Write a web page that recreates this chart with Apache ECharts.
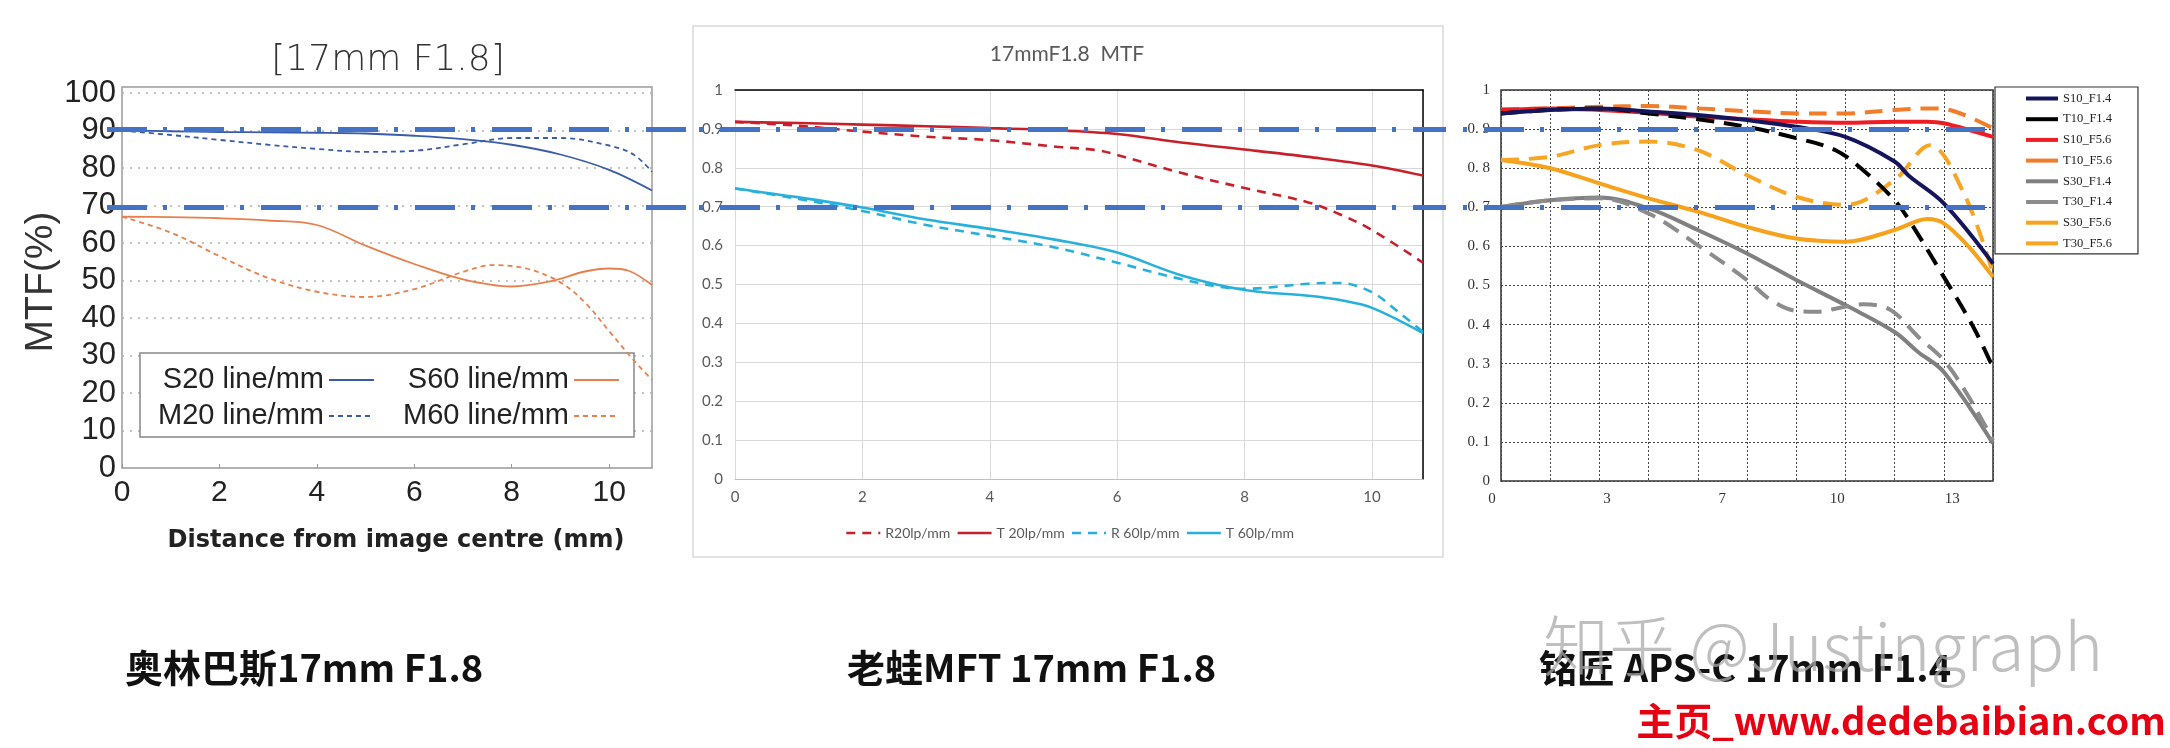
<!DOCTYPE html>
<html>
<head>
<meta charset="utf-8">
<script src="https://cdn.jsdelivr.net/npm/echarts@6.0.0/dist/echarts.min.js"></script>
<style>
html,body{margin:0;padding:0;background:#fff;}
#c{width:2170px;height:748px;}
</style>
</head>
<body>
<div id="c"></div>
<script>
// ---------- Chart 1: Olympus 17mm F1.8 (MTF %, x = mm from centre) ----------
const olyS20 = [[0,90],[1,89.8],[2,89.6],[3,89.5],[4,89.4],[5,89.2],[6,88.6],[7,87.7],[8,86.2],[9,83.6],[10,79.5],[10.88,74]];
const olyM20 = [[0,90],[1,88.8],[2,87.5],[3,86.2],[4,85.1],[5,84.3],[6,84.6],[7,86.3],[8,88.0],[9,88.0],[10,86.0],[10.5,83.6],[10.88,79]];
const olyS60 = [[0,67],[1,66.9],[2,66.6],[3,66],[4,64.8],[5,59.3],[6,54.4],[7,50.3],[8,48.4],[8.8,49.8],[9.5,52.4],[10,53.2],[10.4,52.6],[10.88,48.8]];
const olyM60 = [[0,67],[1,62.8],[2,56.5],[3,50.7],[4,47],[5,45.6],[6,47.7],[7,52.3],[7.6,54.1],[8.3,53.2],[9,49.5],[9.5,44.2],[10,36.5],[10.5,28.8],[10.88,23.5]];

// ---------- Chart 2: Laowa MFT 17mm F1.8 ----------
const lwR20 = [[0,0.918],[1,0.908],[2,0.893],[3,0.88],[4,0.871],[5,0.855],[5.7,0.845],[6,0.833],[7,0.787],[8,0.748],[9,0.711],[9.5,0.68],[10,0.64],[10.8,0.556]];
const lwT20 = [[0,0.918],[1,0.915],[2,0.911],[3,0.907],[4,0.902],[5,0.897],[6,0.887],[7,0.865],[8,0.847],[9,0.828],[10,0.806],[10.8,0.78]];
const lwR60 = [[0,0.747],[1,0.72],[2,0.689],[3,0.653],[4,0.625],[5,0.596],[6,0.556],[7,0.514],[7.8,0.49],[8,0.489],[9,0.502],[9.5,0.504],[10,0.48],[10.4,0.431],[10.8,0.378]];
const lwT60 = [[0,0.747],[1,0.724],[2,0.698],[3,0.667],[4,0.643],[5,0.616],[6,0.582],[7,0.524],[8,0.486],[9,0.471],[9.5,0.46],[10,0.44],[10.8,0.375]];

// ---------- Chart 3: TTArtisan APS-C 17mm F1.4 ----------
const ttS10F14 = [[0,0.94],[1.425,0.949],[2.85,0.953],[4.275,0.945],[5.7,0.936],[7.125,0.923],[8.55,0.906],[9.975,0.88],[11.4,0.817],[11.82,0.78],[12.825,0.71],[14.25,0.556]];
const ttT10F14 = [[0,0.94],[1.425,0.949],[2.85,0.953],[4.275,0.94],[5.7,0.925],[7.16,0.905],[8.55,0.877],[9.69,0.846],[10.49,0.795],[11.4,0.718],[11.82,0.667],[12.825,0.522],[13.68,0.394],[14.25,0.29]];
const ttS10F56 = [[0,0.949],[1.425,0.953],[2.85,0.949],[4.275,0.942],[5.7,0.932],[7.125,0.925],[8.55,0.919],[9.975,0.916],[11.4,0.919],[12.35,0.919],[12.825,0.915],[14.25,0.88]];
const ttT10F56 = [[0,0.951],[1.425,0.953],[2.85,0.957],[4.275,0.959],[5.7,0.953],[7.125,0.946],[8.55,0.94],[9.975,0.94],[11.4,0.949],[12.42,0.953],[13.15,0.945],[14.25,0.902]];
const ttS30F14 = [[0,0.701],[1.425,0.718],[2.85,0.725],[4.275,0.697],[5.7,0.642],[7.125,0.582],[8.55,0.514],[9.975,0.45],[11.4,0.381],[12.08,0.33],[12.825,0.279],[14.25,0.096]];
const ttT30F14 = [[0,0.701],[1.425,0.718],[2.85,0.723],[4.275,0.684],[5.7,0.603],[7.125,0.514],[7.83,0.462],[8.55,0.435],[9.16,0.433],[9.82,0.443],[10.49,0.452],[11.29,0.437],[12.08,0.369],[12.825,0.309],[13.55,0.215],[14.25,0.104]];
const ttS30F56 = [[0,0.821],[1.425,0.8],[2.85,0.761],[4.275,0.723],[5.7,0.689],[7.125,0.65],[8.55,0.62],[9.975,0.612],[11.4,0.642],[12.35,0.67],[12.825,0.659],[13.55,0.599],[14.25,0.522]];
const ttT30F56 = [[0,0.821],[1.425,0.829],[2.85,0.859],[4.275,0.868],[5.7,0.846],[7.125,0.782],[8.55,0.727],[9.975,0.706],[11.4,0.77],[12.42,0.859],[13.41,0.735],[14.25,0.531]];

// reference levels (blue dash-dot lines)
const refLevels = [0.9, 0.7];

// texts
const captions = ['奥林巴斯17mm F1.8', '老蛙MFT 17mm F1.8', '铭匠 APS-C 17mm F1.4'];
const olyLegendA = ['S20 line/mm', 'M20 line/mm'];
const olyLegendB = ['S60 line/mm', 'M60 line/mm'];
const lwLegend = ['R20lp/mm', 'T 20lp/mm', 'R 60lp/mm', 'T 60lp/mm'];
const ttLegend = ['S10_F1.4','T10_F1.4','S10_F5.6','T10_F5.6','S30_F1.4','T30_F1.4','S30_F5.6','T30_F5.6'];

const chart = echarts.init(document.getElementById('c'), null, {renderer: 'canvas'});

function ln(name, data, xi, yi, color, width, type) {
  return {
    name: name, type: 'line', data: data, xAxisIndex: xi, yAxisIndex: yi,
    smooth: 0.35, symbol: 'none', silent: true,
    lineStyle: {color: color, width: width, type: type || 'solid'},
    itemStyle: {color: color}
  };
}
function refSeries(xi, yi, offset) {
  return {
    type: 'line', data: [], xAxisIndex: xi, yAxisIndex: yi, silent: true, z: 20,
    markLine: {
      silent: true, symbol: ['none', 'none'], label: {show: false}, animation: false,
      lineStyle: {color: '#4472c4', width: 5, type: [40, 16, 4, 17], dashOffset: offset, opacity: 1},
      emphasis: {disabled: true},
      data: refLevels.map(v => ({yAxis: v}))
    }
  };
}

const hiddenX = gi => ({gridIndex: gi, type: 'value', min: 0, max: 1, show: false});
const hiddenY = gi => ({gridIndex: gi, type: 'value', min: 0, max: 1, show: false});
const noSymbol = {opacity: 0, borderWidth: 0};

const option = {
  animation: false,
  backgroundColor: '#fff',
  grid: [
    {left: 122, top: 87, width: 530, height: 381, show: true, borderColor: '#9a9a9a', borderWidth: 1.5, backgroundColor: 'transparent'},
    {left: 735, top: 90, width: 688, height: 389},
    {left: 1501, top: 90, width: 492, height: 391, show: true, borderColor: '#333', borderWidth: 1.5, backgroundColor: 'transparent'},
    {left: 107, top: 90, width: 581, height: 390},
    {left: 699, top: 90, width: 747, height: 390},
    {left: 1463, top: 90, width: 522, height: 390}
  ],
  xAxis: [
    {gridIndex: 0, type: 'value', min: 0, max: 10.88, interval: 2, position: 'bottom',
      axisLine: {show: false}, splitLine: {show: false},
      axisTick: {show: true, inside: true, length: 4, lineStyle: {color: '#999'}},
      axisLabel: {fontSize: 30, fontFamily: 'Liberation Sans', color: '#222', margin: 10, showMaxLabel: false}},
    {gridIndex: 1, type: 'value', min: 0, max: 10.8, interval: 2, position: 'bottom',
      axisLine: {show: true, onZero: false, lineStyle: {color: '#bfbfbf', width: 1}}, axisTick: {show: false},
      splitLine: {show: true, lineStyle: {color: '#d9d9d9', width: 1}},
      axisLabel: {fontSize: 15, fontFamily: 'Lato', color: '#595959', margin: 11, showMaxLabel: false}},
    {gridIndex: 1, type: 'value', min: 0, max: 10.8, position: 'top',
      axisLine: {show: true, onZero: false, lineStyle: {color: '#000', width: 1.5}}, axisTick: {show: false},
      axisLabel: {show: false}, splitLine: {show: false}},
    {gridIndex: 2, type: 'value', min: 0, max: 14.25, interval: 1.425, position: 'top',
      axisLine: {show: false}, axisTick: {show: false}, axisLabel: {show: false},
      splitLine: {show: true, lineStyle: {color: '#444', width: 1, type: [2, 2]}}},
    {gridIndex: 2, type: 'value', min: 0, max: 4.275, interval: 1, position: 'bottom',
      axisLine: {show: false}, axisTick: {show: false}, splitLine: {show: false},
      axisLabel: {fontSize: 15, fontFamily: 'Liberation Serif', color: '#333', margin: 11, showMaxLabel: false,
        padding: [0, 18, 0, 0], formatter: v => String(Math.round(v * 10 / 3))}},
    hiddenX(3), hiddenX(4), hiddenX(5)
  ],
  yAxis: [
    {gridIndex: 0, type: 'value', min: 0, max: 101.6, interval: 10,
      axisLine: {show: false}, axisTick: {show: false},
      axisLabel: {fontSize: 31, fontFamily: 'Liberation Sans', color: '#222', margin: 6, showMaxLabel: false},
      splitLine: {show: true, lineStyle: {color: '#b0b0b0', width: 1.5, type: [2, 6]}}},
    {gridIndex: 1, type: 'value', min: 0, max: 1, interval: 0.1, position: 'left',
      axisLine: {show: false}, axisTick: {show: false},
      axisLabel: {fontSize: 15, fontFamily: 'Lato', color: '#595959', margin: 12},
      splitLine: {show: true, lineStyle: {color: '#d9d9d9', width: 1}}},
    {gridIndex: 1, type: 'value', min: 0, max: 1, position: 'right',
      axisLine: {show: true, onZero: false, lineStyle: {color: '#000', width: 1.5}}, axisTick: {show: false},
      axisLabel: {show: false}, splitLine: {show: false}},
    {gridIndex: 2, type: 'value', min: 0, max: 1, interval: 0.1,
      axisLine: {show: false}, axisTick: {show: false},
      axisLabel: {fontSize: 15, fontFamily: 'Liberation Serif', color: '#333', margin: 11,
        formatter: v => (v < 0.01 || v > 0.99) ? String(Math.round(v)) : '0. ' + Math.round(v * 10)},
      splitLine: {show: true, lineStyle: {color: '#444', width: 1, type: [2, 2]}}},
    hiddenY(3), hiddenY(4), hiddenY(5)
  ],
  legend: [
    {orient: 'vertical', left: 158, top: 365, align: 'right', padding: 0, itemWidth: 45, itemHeight: 14, itemGap: 6,
      selectedMode: false, data: olyLegendA, itemStyle: noSymbol, lineStyle: {width: 2},
      textStyle: {fontSize: 29, lineHeight: 30, fontFamily: 'Liberation Sans', color: '#222'}},
    {orient: 'vertical', left: 403, top: 365, align: 'right', padding: 0, itemWidth: 45, itemHeight: 14, itemGap: 6,
      selectedMode: false, data: olyLegendB, itemStyle: noSymbol, lineStyle: {width: 2},
      textStyle: {fontSize: 29, lineHeight: 30, fontFamily: 'Liberation Sans', color: '#222'}},
    {orient: 'horizontal', left: 845, top: 526, padding: 0, itemWidth: 34, itemHeight: 14, itemGap: 6,
      selectedMode: false, data: lwLegend, itemStyle: noSymbol, lineStyle: {width: 2.6},
      textStyle: {fontSize: 14, fontFamily: 'Lato', color: '#595959'}},
    {orient: 'vertical', left: 1995, top: 87, padding: [4, 26, 3, 29], itemWidth: 32, itemHeight: 10, itemGap: 5.7,
      selectedMode: false, data: ttLegend, borderColor: '#333', borderWidth: 1.2, backgroundColor: '#fff',
      lineStyle: {type: 'solid', width: 4}, itemStyle: noSymbol,
      textStyle: {fontSize: 12.5, lineHeight: 15, fontFamily: 'Liberation Serif', color: '#222'}}
  ],
  graphic: [
    {type: 'text', x: 388, y: 61, z: 5, style: {text: '[17mm F1.8]', font: '200 36px "DejaVu Sans"', fill: '#333', align: 'center', verticalAlign: 'middle'}},
    {type: 'text', x: 41, y: 282, rotation: Math.PI / 2, z: 5, style: {text: 'MTF(%)', font: '39px "Liberation Sans"', fill: '#333', align: 'center', verticalAlign: 'middle'}},
    {type: 'text', x: 396, y: 541, z: 5, style: {text: 'Distance from image centre (mm)', font: 'bold 24px "DejaVu Sans"', fill: '#222', align: 'center', verticalAlign: 'middle'}},
    {type: 'rect', z: 3, shape: {x: 140, y: 353, width: 494, height: 84}, style: {fill: '#fff', stroke: '#888', lineWidth: 1.5}},
    {type: 'rect', z: 0, shape: {x: 693, y: 26, width: 750, height: 531}, style: {fill: 'none', stroke: '#d9d9d9', lineWidth: 1.5}},
    {type: 'text', x: 1067, y: 54, z: 5, style: {text: '17mmF1.8  MTF', font: '21px Lato', fill: '#595959', align: 'center', verticalAlign: 'middle'}},
    {type: 'text', x: 125, y: 668, z: 5, style: {text: captions[0], font: 'bold 38px "Noto Sans CJK SC"', fill: '#111', align: 'left', verticalAlign: 'middle'}},
    {type: 'text', x: 847, y: 668, z: 5, style: {text: captions[1], font: 'bold 38px "Noto Sans CJK SC"', fill: '#111', align: 'left', verticalAlign: 'middle'}},
    {type: 'text', x: 1539, y: 668, z: 5, style: {text: captions[2], font: 'bold 38px "Noto Sans CJK SC"', fill: '#111', align: 'left', verticalAlign: 'middle'}},
    {type: 'text', x: 1543, y: 646, z: 6, style: {text: '知乎 @Justingraph', font: '300 66px "Noto Sans CJK SC"', fill: 'rgba(170,170,170,0.75)', align: 'left', verticalAlign: 'middle'}},
    {type: 'text', x: 2166, y: 721, z: 6, style: {text: '主页_www.dedebaibian.com', font: 'bold 38px "Noto Sans CJK SC"', fill: '#e60012', align: 'right', verticalAlign: 'middle'}}
  ],
  series: [
    ln('S20 line/mm', olyS20, 0, 0, '#3a5ca6', 1.8),
    ln('M20 line/mm', olyM20, 0, 0, '#3a5ca6', 1.8, [5, 4]),
    ln('S60 line/mm', olyS60, 0, 0, '#e8804e', 1.8),
    ln('M60 line/mm', olyM60, 0, 0, '#e8804e', 1.8, [5, 4]),

    ln('R20lp/mm', lwR20, 1, 1, '#c8202a', 2.6, [9, 7]),
    ln('T 20lp/mm', lwT20, 1, 1, '#c8202a', 2.6),
    ln('R 60lp/mm', lwR60, 1, 1, '#27b0d9', 2.6, [9, 7]),
    ln('T 60lp/mm', lwT60, 1, 1, '#27b0d9', 2.6),

    ln('S30_F1.4', ttS30F14, 3, 3, '#808080', 4),
    ln('T30_F1.4', ttT30F14, 3, 3, '#8c8c8c', 4, [18, 10]),
    ln('S30_F5.6', ttS30F56, 3, 3, '#f6a21c', 4),
    ln('T30_F5.6', ttT30F56, 3, 3, '#f6a623', 4, [18, 10]),
    ln('T10_F5.6', ttT10F56, 3, 3, '#f07d2a', 4, [18, 10]),
    ln('S10_F5.6', ttS10F56, 3, 3, '#ee1d23', 4),
    ln('T10_F1.4', ttT10F14, 3, 3, '#000000', 4, [18, 10]),
    ln('S10_F1.4', ttS10F14, 3, 3, '#15155c', 4),

    refSeries(5, 4, 0),
    refSeries(6, 5, 56),
    refSeries(7, 6, 56)
  ]
};
chart.setOption(option);
</script>
</body>
</html>
